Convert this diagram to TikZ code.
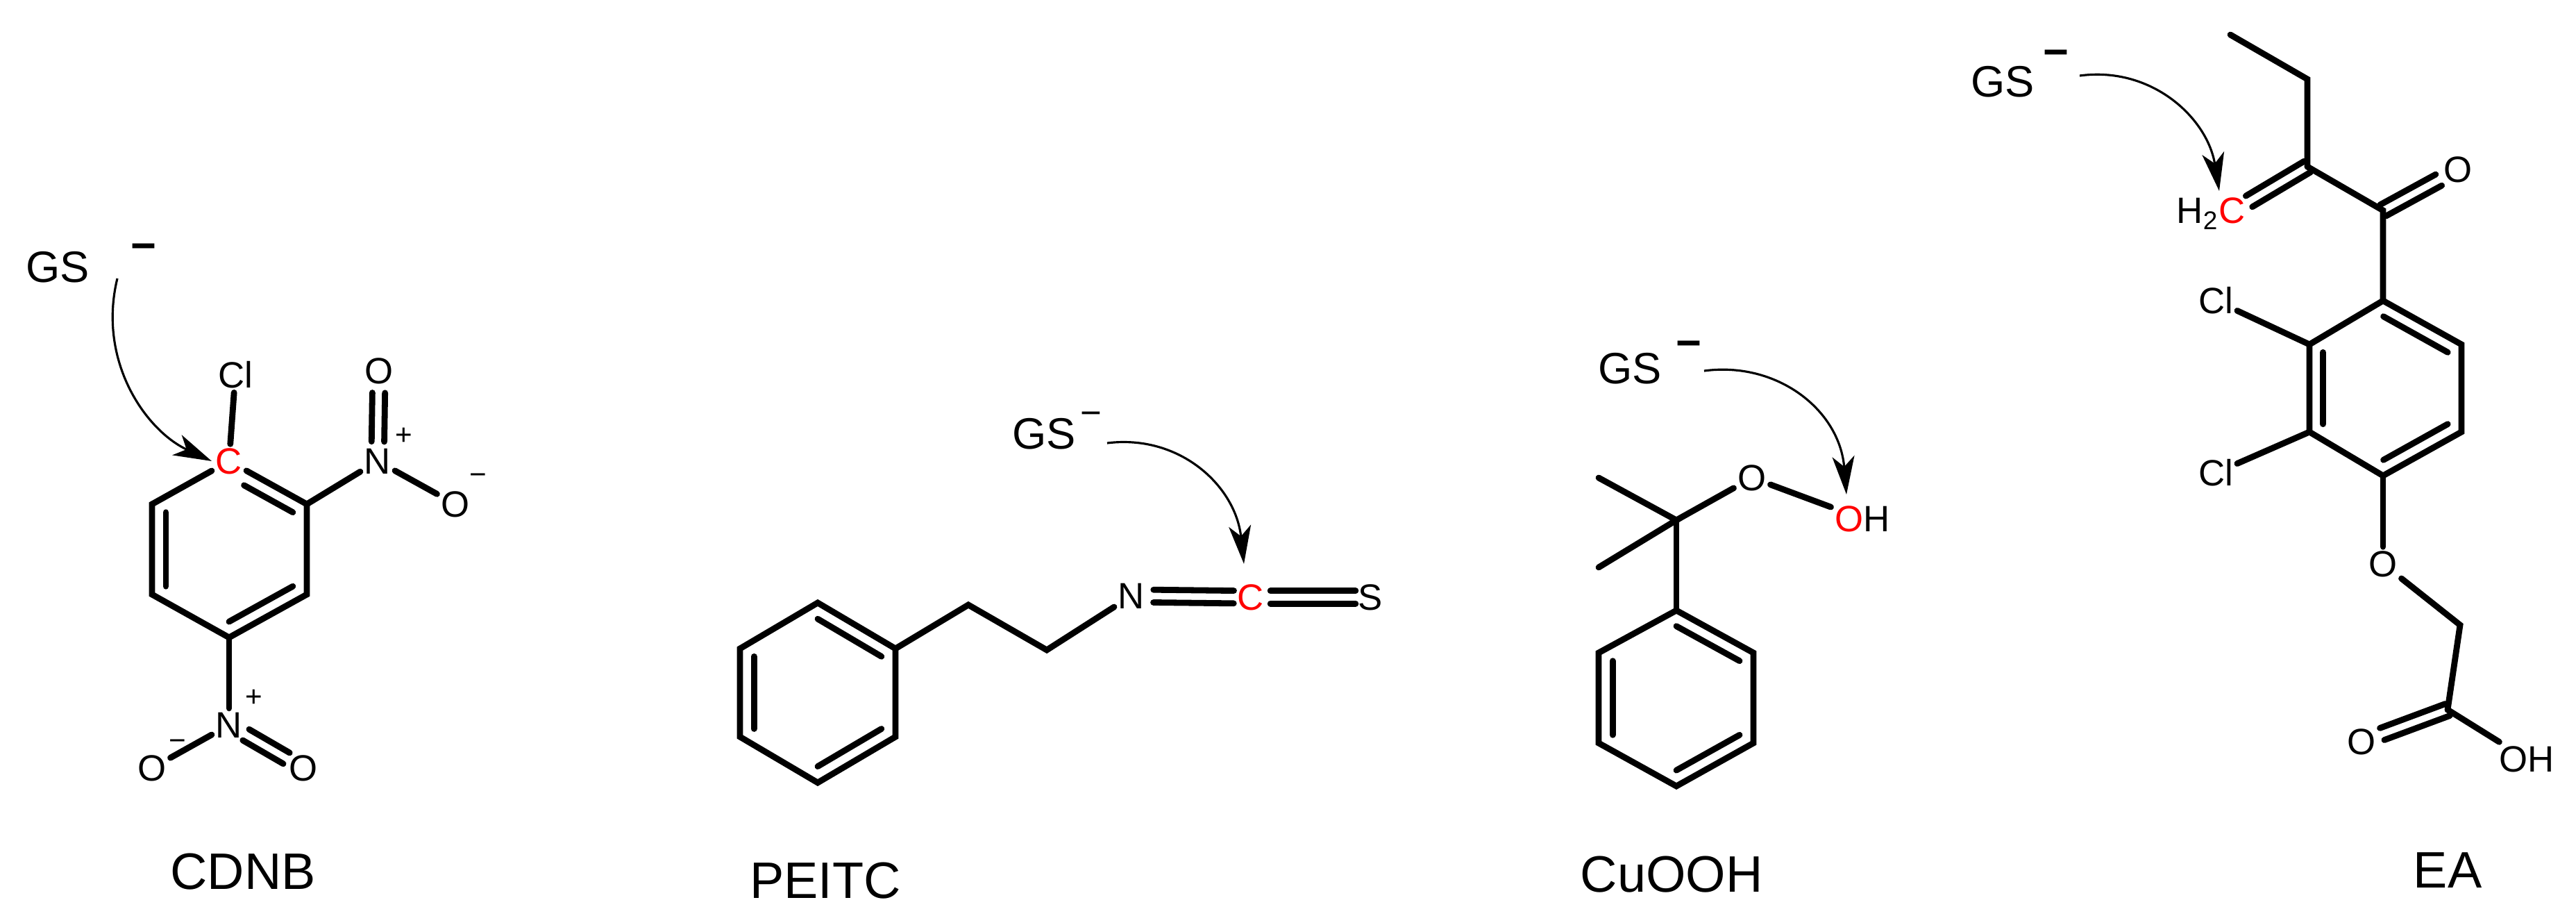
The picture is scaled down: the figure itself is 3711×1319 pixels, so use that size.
\documentclass[tikz,border=0pt]{standalone}
\usepackage{fontspec}
\setmainfont{Liberation Sans}
\usetikzlibrary{calc,arrows.meta}
\tikzset{
  bond/.style={line width=2.5pt,line cap=round},
  atom/.style={inner sep=1.5pt,font=\fontsize{15}{18}\selectfont},
  chg/.style={inner sep=0pt,font=\fontsize{12}{14}\selectfont},
  gs/.style={inner sep=0pt,font=\fontsize{18}{21}\selectfont},
  gsminus/.style={inner sep=0pt,font=\fontsize{18}{21}\selectfont\bfseries},
  lab/.style={inner sep=0pt,font=\fontsize{21}{25}\selectfont},
  attack/.style={line width=0.9pt,-{Stealth[length=0.55cm,width=0.32cm,inset=0.15cm]}},
}
\newcommand\dbond[4]{%
  \draw[bond,shorten <=#3,shorten >=#4] ($(#1)!2.6pt!90:(#2)$) -- ($(#2)!2.6pt!-90:(#1)$);
  \draw[bond,shorten <=#3,shorten >=#4] ($(#1)!2.6pt!-90:(#2)$) -- ($(#2)!2.6pt!90:(#1)$);}
\newcommand\ibond[3]{%
  \draw[bond] ($(#1)!0.18!(#3)$) -- ($(#2)!0.18!(#3)$);}
\begin{document}
\begin{tikzpicture}[x=0.01cm,y=-0.01cm]
\useasboundingbox (0,0) rectangle (3711,1319);
% ================= CDNB
\node[gs] (gs1) at (83,385) {GS};
\node[gsminus] (gs1m) at (207,363) {−};
\node[atom] (cl1) at (339,540) {Cl};
\node[atom,text=red] (c1) at (330,664) {C};
\coordinate (a1t) at (330,664);
\coordinate (a1ur) at (442,726);
\coordinate (a1lr) at (442,856);
\coordinate (a1b) at (330,918);
\coordinate (a1ll) at (219,856);
\coordinate (a1ul) at (219,726);
\coordinate (a1c) at (330,791);
\draw[bond] (c1) -- (a1ur) -- (a1lr) -- (a1b) -- (a1ll) -- (a1ul) -- (c1);
\draw[bond] (c1) -- (cl1);
\draw[bond,shorten <=7pt] ($(a1t)!0.18!(a1c)$) -- ($(a1ur)!0.18!(a1c)$);
\ibond{a1ul}{a1ll}{a1c}
\ibond{a1lr}{a1b}{a1c}
\node[atom] (n1) at (544,664) {N};
\node[atom] (o1) at (546,534) {O};
\node[atom] (o2) at (656,726) {O};
\node[chg] (p1) at (582,628) {+};
\node[chg] (m1) at (689,690) {−};
\draw[bond] (a1ur) -- (n1);
\draw[bond] (n1) -- (o2);
\dbond{n1}{o1}{8pt}{9pt}
\node[atom] (n2) at (330,1044) {N};
\node[atom] (o3) at (219,1106) {O};
\node[atom] (o4) at (437,1106) {O};
\node[chg] (p2) at (366,1005) {+};
\node[chg] (m2) at (256,1073) {−};
\draw[bond] (a1b) -- (n2);
\draw[bond] (n2) -- (o3);
\dbond{n2}{o4}{8pt}{8pt}
\draw[attack] (169,401) .. controls (140,520) and (210,620) .. (c1.west);
\node[lab] (l1) at (350,1255) {CDNB};
% ================= PEITC
\node[gs] (gs2) at (1504,625) {GS};
\node[chg,font=\fontsize{15}{16}\selectfont] (gs2m) at (1572,603) {−};
\coordinate (b2t) at (1178,868);
\coordinate (b2ur) at (1290,934);
\coordinate (b2lr) at (1290,1061);
\coordinate (b2b) at (1178,1127);
\coordinate (b2ll) at (1066,1061);
\coordinate (b2ul) at (1066,934);
\coordinate (b2c) at (1178,997);
\draw[bond] (b2t) -- (b2ur) -- (b2lr) -- (b2b) -- (b2ll) -- (b2ul) -- cycle;
\ibond{b2t}{b2ur}{b2c}
\ibond{b2ul}{b2ll}{b2c}
\ibond{b2lr}{b2b}{b2c}
\coordinate (ch1) at (1395,871);
\coordinate (ch2) at (1508,936);
\node[atom] (n3) at (1630,858) {N};
\node[atom,text=red] (c3) at (1802,860) {C};
\node[atom] (s3) at (1974,860) {S};
\draw[bond] (b2ur) -- (ch1) -- (ch2) -- (n3);
\dbond{n3}{c3}{9pt}{7pt}
\dbond{c3}{s3}{8pt}{6pt}
\draw[attack] (1595,638) .. controls (1700,625) and (1780,700) .. (1792,812);
\node[lab] (l2) at (1189,1268) {PEITC};
% ================= CuOOH
\node[gs] (gs3) at (2348,531) {GS};
\node[gsminus] (gs3m) at (2433,503) {−};
\coordinate (q) at (2415,749);
\coordinate (me1) at (2303,688);
\coordinate (me2) at (2303,817);
\node[atom] (o5) at (2524,688) {O};
\node[atom] (oh) at (2683,747) {\textcolor{red}{O}H};
\coordinate (c4t) at (2415,879);
\coordinate (c4ur) at (2526,940);
\coordinate (c4lr) at (2526,1070);
\coordinate (c4b) at (2415,1132);
\coordinate (c4ll) at (2303,1070);
\coordinate (c4ul) at (2303,940);
\coordinate (c4c) at (2415,1005);
\draw[bond] (me1) -- (q) -- (me2);
\draw[bond] (q) -- (o5);
\draw[bond] (o5) -- (oh);
\draw[bond] (q) -- (c4t);
\draw[bond] (c4t) -- (c4ur) -- (c4lr) -- (c4b) -- (c4ll) -- (c4ul) -- cycle;
\ibond{c4t}{c4ur}{c4c}
\ibond{c4ul}{c4ll}{c4c}
\ibond{c4lr}{c4b}{c4c}
\draw[attack] (2455,534) .. controls (2560,520) and (2650,590) .. (2660,712);
\node[lab] (l3) at (2408,1259) {CuOOH};
% ================= EA
\node[gs] (gs4) at (2885,118) {GS};
\node[gsminus] (gs4m) at (2962,84) {−};
\coordinate (e1) at (3213,50);
\coordinate (e2) at (3324,114);
\coordinate (e3) at (3324,240);
\node[atom,anchor=base east,inner sep=0pt] (h2c) at (3235,322) {H\textsubscript{2}\textcolor{red}{C}};
\coordinate (eC) at (3240,290);
\coordinate (e4) at (3433,303);
\node[atom] (o6) at (3541,244) {O};
\coordinate (d1t) at (3433,433);
\coordinate (d1ur) at (3546,496);
\coordinate (d1lr) at (3546,622);
\coordinate (d1b) at (3433,685);
\coordinate (d1ll) at (3327,622);
\coordinate (d1ul) at (3327,496);
\coordinate (d1c) at (3436,559);
\node[atom] (cl2) at (3192,433) {Cl};
\node[atom] (cl3) at (3192,681) {Cl};
\node[atom] (o7) at (3433,812) {O};
\coordinate (e5) at (3544,900);
\coordinate (e6) at (3526,1022);
\node[atom] (o8) at (3402,1068) {O};
\node[atom] (oh2) at (3640,1093) {OH};
\draw[bond] (e1) -- (e2) -- (e3);
\dbond{e3}{eC}{0pt}{0pt}
\draw[bond] (e3) -- (e4) -- (d1t);
\dbond{e4}{o6}{0pt}{9pt}
\draw[bond] (d1t) -- (d1ur) -- (d1lr) -- (d1b) -- (d1ll) -- (d1ul) -- cycle;
\ibond{d1t}{d1ur}{d1c}
\ibond{d1ul}{d1ll}{d1c}
\ibond{d1lr}{d1b}{d1c}
\draw[bond] (d1ul) -- (cl2);
\draw[bond] (d1ll) -- (cl3);
\draw[bond] (d1b) -- (o7);
\draw[bond] (o7) -- (e5) -- (e6);
\dbond{e6}{o8}{0pt}{9pt}
\draw[bond] (e6) -- (oh2);
\draw[attack] (2996,109) .. controls (3100,95) and (3180,170) .. (3197,275);
\node[lab] (l4) at (3526,1253) {EA};
\end{tikzpicture}
\end{document}
